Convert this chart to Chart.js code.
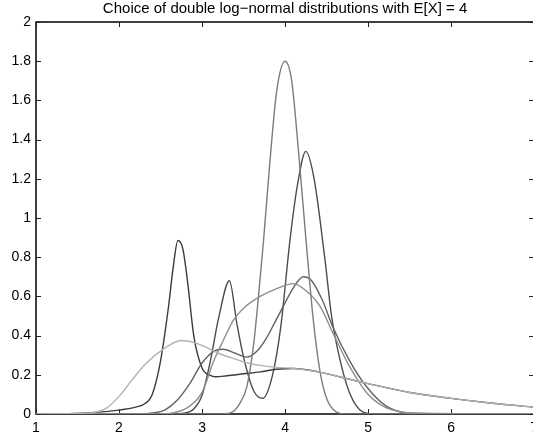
<!DOCTYPE html>
<html>
<head>
<meta charset="utf-8">
<script src="https://cdn.jsdelivr.net/npm/chart.js@4/dist/chart.umd.min.js"></script>
<style>
  html, body { margin: 0; padding: 0; background: #fff; overflow: hidden; }
  #wrap { width: 533px; height: 444px; overflow: hidden; }
  canvas { display: block; }
</style>
</head>
<body>
<div id="wrap"><canvas id="grafico" width="544" height="444"></canvas></div>
<script>
// Densities of six double log-normal mixtures, all with mean 4
var xCurva1 = [1, 1.4, 1.7, 2.0, 2.2, 2.3, 2.4, 2.5, 2.6, 2.65, 2.71, 2.77, 2.83, 2.9, 3.0, 3.1, 3.16, 3.3, 3.5, 3.7, 3.9, 4.1, 4.4, 4.7, 5.0, 5.5, 6.0, 6.5, 7.0];
var yCurva1 = [0, 0.002, 0.008, 0.02, 0.035, 0.05, 0.1, 0.27, 0.56, 0.74, 0.885, 0.84, 0.66, 0.4, 0.235, 0.197, 0.19, 0.195, 0.205, 0.215, 0.228, 0.232, 0.215, 0.185, 0.155, 0.11, 0.08, 0.055, 0.035];

var xCurva2 = [1, 1.4, 1.7, 1.85, 2.0, 2.15, 2.33, 2.53, 2.75, 2.9, 3.0, 3.2, 3.4, 3.55, 3.7, 3.9, 4.1, 4.4, 4.7, 5.0, 5.5, 6.0, 6.5, 7.0];
var yCurva2 = [0, 0.002, 0.008, 0.03, 0.09, 0.17, 0.26, 0.33, 0.375, 0.365, 0.35, 0.31, 0.28, 0.26, 0.248, 0.238, 0.232, 0.215, 0.185, 0.155, 0.11, 0.08, 0.055, 0.035];

var xCurva3 = [1, 2.6, 2.8, 2.9, 3.0, 3.1, 3.2, 3.33, 3.42, 3.5, 3.62, 3.73, 3.85, 3.95, 4.06, 4.15, 4.25, 4.35, 4.48, 4.56, 4.66, 4.78, 4.94, 5.1, 7];
var yCurva3 = [0, 0, 0.005, 0.025, 0.095, 0.27, 0.49, 0.68, 0.46, 0.29, 0.12, 0.08, 0.2, 0.45, 0.89, 1.17, 1.34, 1.2, 0.79, 0.5, 0.28, 0.105, 0.01, 0, 0];

var xCurva4 = [1, 2.2, 2.4, 2.55, 2.7, 2.86, 3.0, 3.14, 3.25, 3.4, 3.54, 3.66, 3.78, 3.88, 3.98, 4.08, 4.22, 4.32, 4.45, 4.58, 4.78, 4.98, 5.22, 5.5, 7];
var yCurva4 = [0, 0, 0.005, 0.02, 0.07, 0.16, 0.26, 0.32, 0.33, 0.31, 0.29, 0.32, 0.39, 0.47, 0.55, 0.63, 0.7, 0.68, 0.58, 0.44, 0.27, 0.14, 0.04, 0.005, 0];

var xCurva5 = [1, 2.5, 2.7, 2.85, 3.0, 3.14, 3.25, 3.38, 3.5, 3.7, 3.9, 4.1, 4.25, 4.42, 4.58, 4.78, 4.98, 5.18, 5.4, 5.7, 7];
var yCurva5 = [0, 0, 0.01, 0.04, 0.11, 0.27, 0.37, 0.48, 0.54, 0.6, 0.64, 0.665, 0.63, 0.55, 0.41, 0.24, 0.11, 0.04, 0.01, 0, 0];

var xCurva6 = [1, 3.2, 3.34, 3.45, 3.54, 3.62, 3.68, 3.74, 3.82, 3.9, 4.0, 4.08, 4.16, 4.26, 4.34, 4.42, 4.5, 4.62, 4.75, 7];
var yCurva6 = [0, 0, 0.005, 0.05, 0.14, 0.35, 0.6, 0.88, 1.3, 1.65, 1.8, 1.7, 1.35, 0.85, 0.48, 0.22, 0.08, 0.01, 0, 0];

var ticksX = [1, 2, 3, 4, 5, 6, 7];
var ticksY = [0, 0.2, 0.4, 0.6, 0.8, 1, 1.2, 1.4, 1.6, 1.8, 2];
var titulo = "Choice of double log\u2212normal distributions with E[X] = 4";

function pontos(xs, ys) {
  return xs.map(function (x, i) { return { x: x, y: ys[i] }; });
}

function curva(xs, ys, cor) {
  return {
    data: pontos(xs, ys),
    borderColor: cor,
    borderWidth: 1.4,
    pointRadius: 0,
    fill: false,
    cubicInterpolationMode: "monotone",
  };
}

var fonte = { family: "'Liberation Sans', Arial, sans-serif", size: 14 };

// box around the plot with inward ticks, MATLAB style
var moldura = {
  id: "moldura",
  beforeDatasetsDraw: function (chart) {
    var ctx = chart.ctx;
    var a = chart.chartArea;
    var sx = chart.scales.x, sy = chart.scales.y;
    ctx.save();
    ctx.strokeStyle = "#000";
    ctx.lineWidth = 1.5;
    ctx.strokeRect(a.left, a.top, a.right - a.left, a.bottom - a.top);
    ctx.lineWidth = 1;
    ctx.strokeStyle = "#222";
    ctx.beginPath();
    ticksX.forEach(function (v) {
      var px = Math.round(sx.getPixelForValue(v)) + 0.5;
      ctx.moveTo(px, a.bottom); ctx.lineTo(px, a.bottom - 5);
      ctx.moveTo(px, a.top); ctx.lineTo(px, a.top + 5);
    });
    ticksY.forEach(function (v) {
      var py = Math.round(sy.getPixelForValue(v)) + 0.5;
      ctx.moveTo(a.left, py); ctx.lineTo(a.left + 5, py);
      ctx.moveTo(a.right, py); ctx.lineTo(a.right - 5, py);
    });
    ctx.stroke();
    ctx.restore();
  },
  afterDraw: function (chart) {
    var ctx = chart.ctx;
    var a = chart.chartArea;
    ctx.save();
    ctx.fillStyle = "#000";
    ctx.font = "15px 'Liberation Sans', Arial, sans-serif";
    ctx.textAlign = "center";
    ctx.textBaseline = "middle";
    ctx.fillText(titulo, (a.left + a.right) / 2, 9);
    ctx.restore();
  },
};

var grafico = document.getElementById("grafico").getContext("2d");

new Chart(grafico, {
  type: "line",
  data: {
    datasets: [
      curva(xCurva2, yCurva2, "#b2b2b2"),
      curva(xCurva5, yCurva5, "#8e8e8e"),
      curva(xCurva6, yCurva6, "#7c7c7c"),
      curva(xCurva4, yCurva4, "#626262"),
      curva(xCurva3, yCurva3, "#4c4c4c"),
      curva(xCurva1, yCurva1, "#3a3a3a"),
    ],
  },
  plugins: [moldura],
  options: {
    responsive: false,
    animation: false,
    layout: { padding: { top: 22, left: 0, right: 0, bottom: 0 } },
    plugins: {
      legend: { display: false },
      title: { display: false },
      tooltip: { enabled: false },
    },
    scales: {
      x: {
        type: "linear",
        min: 1,
        max: 7,
        grid: { display: false, drawTicks: false },
        border: { display: false },
        afterBuildTicks: function (s) { s.ticks = ticksX.map(function (v) { return { value: v }; }); },
        afterFit: function (s) { s.height = 30; },
        ticks: { color: "#000", font: fonte, padding: 6, maxRotation: 0, autoSkip: false },
      },
      y: {
        min: 0,
        max: 2,
        grid: { display: false, drawTicks: false },
        border: { display: false },
        afterBuildTicks: function (s) { s.ticks = ticksY.map(function (v) { return { value: v }; }); },
        afterFit: function (s) { s.width = 36; },
        ticks: {
          color: "#000",
          font: fonte,
          padding: 5,
          autoSkip: false,
          callback: function (v) { return String(Math.round(v * 10) / 10); },
        },
      },
    },
  },
});
</script>
</body>
</html>
